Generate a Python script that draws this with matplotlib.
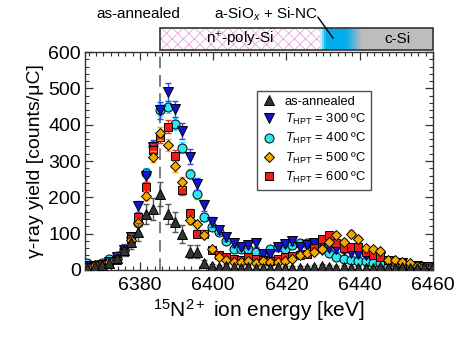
import matplotlib
matplotlib.use("Agg")
import matplotlib.pyplot as plt
import matplotlib.transforms as mtransforms
from matplotlib.patches import Rectangle
from matplotlib.ticker import MultipleLocator
from matplotlib.colors import to_rgb

plt.rcParams['font.family'] = ['Liberation Sans', 'DejaVu Sans']
plt.rcParams['mathtext.fontset'] = 'custom'
plt.rcParams['mathtext.rm'] = 'Liberation Sans'
plt.rcParams['mathtext.it'] = 'Liberation Sans:italic'
plt.rcParams['mathtext.bf'] = 'Liberation Sans:bold'
plt.rcParams['hatch.linewidth'] = 0.6

# ---------------- data ----------------
energy = [6365.6, 6367.6, 6369.6, 6371.6, 6373.6, 6375.6, 6377.6, 6379.6, 6381.6, 6383.6,
          6385.6, 6387.6, 6389.6, 6391.6, 6393.6, 6395.6, 6397.6, 6399.6, 6401.6, 6403.6,
          6405.6, 6407.6, 6409.6, 6411.6, 6413.6, 6415.6, 6417.6, 6419.6, 6421.6, 6423.6,
          6425.6, 6427.6, 6429.6, 6431.6, 6433.6, 6435.6, 6437.6, 6439.6, 6441.6, 6443.6,
          6445.6, 6447.6, 6449.6, 6451.6, 6453.6, 6455.6, 6457.6, 6459.6]

y_ann = [5, 10, 14, 20, 33, 55, 78, 105, 155, 169, 210, 155, 132, 100, 50, 50, 18, 10, 8, 10,
         8, 5, 8, 6, 5, 5, 8, 5, 5, 6, 5, 8, 10, 8, 5, 8, 5, 5, 6, 5,
         8, 5, 5, 8, 5, 6, 8, 5]
e_ann = [5, 7, 8, 10, 13, 17, 20, 25, 28, 30, 33, 28, 27, 25, 18, 18, 10, 7, 6, 7,
         6, 5, 6, 5, 5, 5, 6, 5, 5, 5, 5, 6, 7, 6, 5, 6, 5, 5, 5, 5,
         6, 5, 5, 6, 5, 5, 6, 5]

y_300 = [10, 12, 15, 22, 35, 55, 90, 175, 260, 338, 440, 491, 443, 382, 312, 237, 178, 132, 110, 91,
         73, 64, 70, 73, 45, 45, 64, 72, 80, 64, 70, 73, 55, 60, 58, 55, 46, 45, 40, 46,
         37, 25, 20, 18, 12, 10, 8, 8]
e_300 = [3, 4, 4, 5, 7, 8, 10, 15, 18, 20, 23, 25, 23, 22, 20, 17, 15, 13, 12, 10,
         9, 9, 9, 9, 7, 7, 9, 9, 10, 9, 9, 9, 8, 9, 8, 8, 7, 7, 7, 7,
         7, 6, 5, 5, 4, 3, 3, 3]

y_400 = [18, 15, 20, 30, 38, 59, 91, 130, 267, 340, 440, 449, 402, 336, 265, 208, 146, 119, 105, 80,
         57, 57, 57, 50, 42, 57, 62, 57, 68, 73, 75, 70, 60, 46, 37, 30, 27, 24, 24, 18,
         18, 12, 10, 6, 4, 5, 5, 5]
e_400 = [3, 3, 4, 4, 5, 6, 8, 9, 13, 15, 17, 17, 16, 15, 13, 12, 10, 9, 8, 7,
         6, 6, 6, 6, 5, 6, 6, 6, 7, 7, 7, 7, 6, 5, 5, 4, 4, 4, 4, 3,
         3, 3, 3, 2, 2, 2, 2, 2]

y_500 = [8, 15, 12, 22, 30, 52, 82, 130, 205, 312, 376, 345, 285, 242, 137, 126, 97, 57, 35, 28,
         23, 22, 25, 20, 25, 22, 23, 25, 30, 40, 46, 50, 59, 77, 96, 77, 100, 86, 60, 57,
         51, 27, 27, 22, 18, 12, 9, 9]
e_500 = [3, 4, 3, 4, 5, 7, 8, 10, 13, 16, 17, 17, 15, 14, 11, 10, 9, 7, 5, 5,
         4, 4, 5, 4, 5, 4, 4, 5, 5, 6, 6, 6, 7, 8, 9, 8, 9, 8, 7, 7,
         6, 5, 5, 4, 4, 3, 3, 3]

y_600 = [8, 10, 12, 20, 28, 50, 85, 146, 228, 331, 367, 394, 315, 219, 157, 100, 100, 55, 40, 35,
         30, 28, 35, 30, 28, 25, 30, 35, 38, 40, 45, 60, 85, 96, 75, 60, 64, 63, 50, 40,
         37, 28, 22, 18, 15, 12, 10, 12]
e_600 = [3, 3, 3, 4, 5, 6, 8, 11, 14, 16, 17, 18, 16, 13, 11, 9, 9, 7, 6, 5,
         5, 5, 5, 5, 5, 5, 5, 5, 6, 6, 6, 7, 8, 9, 8, 7, 7, 7, 6, 6,
         5, 5, 4, 4, 3, 3, 3, 3]

surface_energy = 6385.4
layer_edges = [6385.4, 6429.2, 6440.5, 6460.0]

series = [
    # label, y, err, marker, face, errcolor, zorder, legend-order
    ('$T_{\\mathrm{HPT}}$ = 400 ºC', y_400, e_400, 'o', '#2EE6EE', '#33EEFF', 3, 2),
    ('$T_{\\mathrm{HPT}}$ = 300 ºC', y_300, e_300, 'v', '#1414C8', '#2A4BFF', 4, 1),
    ('$T_{\\mathrm{HPT}}$ = 600 ºC', y_600, e_600, 's', '#EE1B1B', '#FF2A2A', 5, 4),
    ('$T_{\\mathrm{HPT}}$ = 500 ºC', y_500, e_500, 'D', '#F5A800', '#FFA500', 6, 3),
    ('as-annealed', y_ann, e_ann, '^', '#333333', '#555555', 7, 0),
]

fig = plt.figure(figsize=(4.58, 3.38), dpi=100)
ax = fig.add_axes([0.1856, 0.2012, 0.7598, 0.6448])

handles = {}
for label, y, err, mk, fc, ec, z, order in series:
    ms = 5.4 if mk == 'D' else 6.5
    if mk == 's':
        ms = 6.0
    ax.errorbar(energy, y, yerr=err, fmt='none', ecolor=ec, elinewidth=1.0,
                capsize=2.5, capthick=1.0, zorder=z)
    h, = ax.plot(energy, y, linestyle='none', marker=mk, markersize=ms,
                 markerfacecolor=fc, markeredgecolor='black', markeredgewidth=0.7,
                 zorder=z + 0.5, label=label)
    handles[order] = h

ax.axvline(surface_energy, color='#666666', lw=1.2, dashes=(7, 4), zorder=1)

ax.set_xlim(6365, 6460)
ax.set_ylim(0, 600)
ax.xaxis.set_major_locator(MultipleLocator(20))
ax.xaxis.set_minor_locator(MultipleLocator(2))
ax.yaxis.set_major_locator(MultipleLocator(100))
ax.yaxis.set_minor_locator(MultipleLocator(20))
ax.tick_params(which='both', direction='in', top=True, right=True, labelsize=14,
               color='#333333')
ax.tick_params(which='major', length=6, width=0.9)
ax.tick_params(which='minor', length=3, width=0.8)
ax.tick_params(axis='x', pad=5)
ax.tick_params(axis='y', pad=3)
for s in ax.spines.values():
    s.set_linewidth(1.0)
    s.set_color('#333333')

ax.set_xlabel('$^{15}$N$^{2+}$ ion energy [keV]', fontsize=15, labelpad=2)
ax.set_ylabel('γ-ray yield [counts/μC]', fontsize=14, labelpad=3)

leg = ax.legend([handles[i] for i in range(5)], [handles[i].get_label() for i in range(5)],
                loc='upper left', bbox_to_anchor=(0.494, 0.821), borderaxespad=0,
                fontsize=9.3, frameon=True, fancybox=False, edgecolor='#222222',
                labelspacing=0.33, handletextpad=0.6, handlelength=1.2,
                borderpad=0.35, numpoints=1)
leg.get_frame().set_linewidth(1.0)
leg.set_zorder(20)

# ------------- layer banner above plot -------------
trans = mtransforms.blended_transform_factory(ax.transData, ax.transAxes)
yb, yt = 1.009, 1.11
x0, x1, x2, x3 = layer_edges
pink = Rectangle((x0, yb), x1 - x0, yt - yb, transform=trans, facecolor='white',
                 edgecolor='#EBA2E3', hatch='xxx', lw=0, clip_on=False, zorder=2)
ax.add_patch(pink)

blue = to_rgb('#00AEEF')
white = to_rgb('#F4F8FF')
gray = to_rgb('#BDBDBD')
nsl = 60
w = (x3 - x1) / nsl
for k in range(nsl):
    xs = x1 + k * w
    xm = xs + w / 2
    if xm < x1 + 1.5:
        t = (xm - x1) / 1.5
        c = tuple(white[j] + (blue[j] - white[j]) * t for j in range(3))
    elif xm < 6436.5:
        c = blue
    elif xm < x2:
        t = (xm - 6436.5) / (x2 - 6436.5)
        c = tuple(blue[j] + (gray[j] - blue[j]) * t for j in range(3))
    else:
        c = gray
    ax.add_patch(Rectangle((xs, yb), w * 1.05, yt - yb, transform=trans, facecolor=c,
                           lw=0, clip_on=False, zorder=2))
ax.add_patch(Rectangle((x0, yb), x3 - x0, yt - yb, transform=trans, fill=False,
                       edgecolor='#333333', lw=1.2, clip_on=False, zorder=3))

ax.text((x0 + x1) / 2, 1.058, 'n$^{+}$-poly-Si', transform=trans, ha='center', va='center',
        fontsize=11, zorder=4)
ax.text((x2 + x3) / 2, 1.058, 'c-Si', transform=trans, ha='center', va='center',
        fontsize=11, zorder=4)
ax.text(6379.5, 1.175, 'as-annealed', transform=trans, ha='center', va='center', fontsize=11)
ax.text(6414.5, 1.175, 'a-SiO$_{x}$ + Si-NC', transform=trans, ha='center', va='center',
        fontsize=11)
ax.plot([6428.6, 6432.7], [1.16, 1.064], transform=trans, color='black', lw=1.0,
        clip_on=False, zorder=5)

fig.savefig('out.png', dpi=100)
